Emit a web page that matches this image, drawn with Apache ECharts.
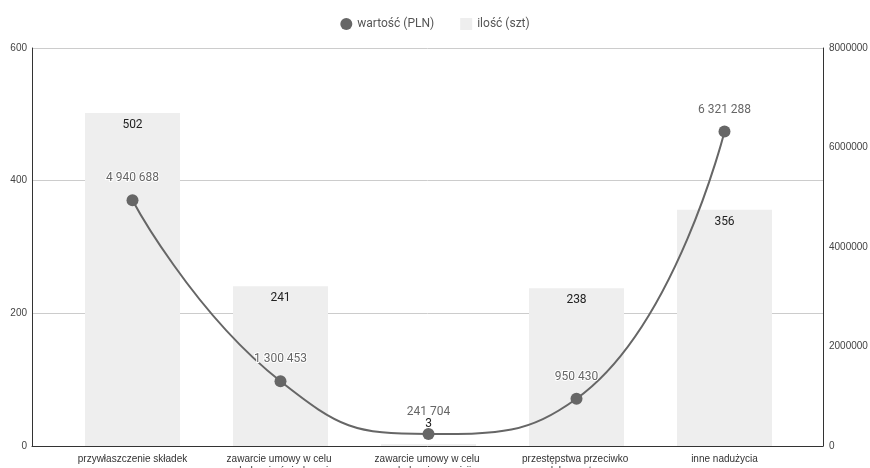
<!DOCTYPE html>
<html><head><meta charset="utf-8">
<script src="https://cdn.jsdelivr.net/npm/echarts@6/dist/echarts.min.js"></script>
<style>html,body{margin:0;padding:0;background:#fff}#c{width:870px;height:468px}</style>
</head><body><div id="c"></div>
<script>
var categories = ['przywłaszczenie składek','zawarcie umowy w celu wyłudzenia świadczenia','zawarcie umowy w celu wyłudzenia prowizji','przestępstwa przeciwko dokumentom','inne nadużycia'];
var valuePLN = [4940688, 1300453, 241704, 950430, 6321288];
var countSzt = [502, 241, 3, 238, 356];
var leftTicks = [0, 200, 400, 600];
var rightTicks = [0, 2000000, 4000000, 6000000, 8000000];

function fmt(n){return String(n).replace(/\B(?=(\d{3})+(?!\d))/g,' ');}
var lMin = leftTicks[0], lMax = leftTicks[leftTicks.length-1], lInt = leftTicks[1]-leftTicks[0];
var rMin = rightTicks[0], rMax = rightTicks[rightTicks.length-1], rInt = rightTicks[1]-rightTicks[0];

var barData = countSzt.map(function(v){
  var small = (v - lMin) / (lMax - lMin) < 0.06;
  return small ? {value:v,label:{position:'top',distance:14}} : v;
});

var chart = echarts.init(document.getElementById('c'));
chart.setOption({
  animation:false,
  textStyle:{fontFamily:'Liberation Sans, Arial, sans-serif'},
  legend:{top:13,left:'center',itemWidth:12,itemHeight:12,itemGap:26,
    textStyle:{color:'#555',fontSize:12,fontFamily:'Roboto'},
    data:[{name:'wartość (PLN)',icon:'circle'},{name:'ilość (szt)',icon:'rect'}]},
  grid:[
    {left:58.5,right:71.5,top:48,bottom:22,outerBoundsMode:'none',containLabel:false},
    {left:32,right:47,top:48,bottom:22,outerBoundsMode:'none',containLabel:false}
  ],
  xAxis:[
    {type:'category',gridIndex:0,data:categories,
     axisLine:{show:false},axisTick:{show:false},
     axisLabel:{interval:0,fontSize:10,color:'#333',lineHeight:12,margin:7,width:130,overflow:'break'}},
    {type:'value',gridIndex:1,min:0,max:1,show:true,
     axisLine:{show:true,onZero:false,lineStyle:{color:'#333'}},axisTick:{show:false},
     axisLabel:{show:false},splitLine:{show:false},z:0}
  ],
  yAxis:[
    {type:'value',gridIndex:0,min:lMin,max:lMax,interval:lInt,show:false},
    {type:'value',gridIndex:0,min:rMin,max:rMax,interval:rInt,show:false},
    {type:'value',gridIndex:1,min:lMin,max:lMax,interval:lInt,position:'left',
     axisLine:{show:true,lineStyle:{color:'#333'}},axisTick:{show:false},
     axisLabel:{fontSize:10,color:'#444',margin:5},
     splitLine:{lineStyle:{color:'#cccccc'}},z:0},
    {type:'value',gridIndex:1,min:rMin,max:rMax,interval:rInt,position:'right',
     axisLine:{show:true,lineStyle:{color:'#333'}},axisTick:{show:false},
     axisLabel:{fontSize:10,color:'#444',margin:6,formatter:function(v){return String(v);}},
     splitLine:{show:false},z:0}
  ],
  series:[
    {name:'ilość (szt)',type:'bar',xAxisIndex:0,yAxisIndex:0,data:barData,barWidth:95,z:2,
     itemStyle:{color:'#eeeeee'},
     label:{show:true,position:'insideTop',distance:6,color:'#222',fontSize:12,fontFamily:'Roboto'}},
    {name:'wartość (PLN)',type:'line',xAxisIndex:0,yAxisIndex:1,data:valuePLN,smooth:0.5,z:3,
     symbol:'circle',symbolSize:12,
     lineStyle:{color:'#666',width:2},itemStyle:{color:'#666'},
     label:{show:true,position:'top',distance:10,color:'#666',fontSize:12,fontFamily:'Roboto',
       textBorderColor:'#fff',textBorderWidth:2,formatter:function(p){return fmt(p.value);}}}
  ]
});
</script></body></html>
